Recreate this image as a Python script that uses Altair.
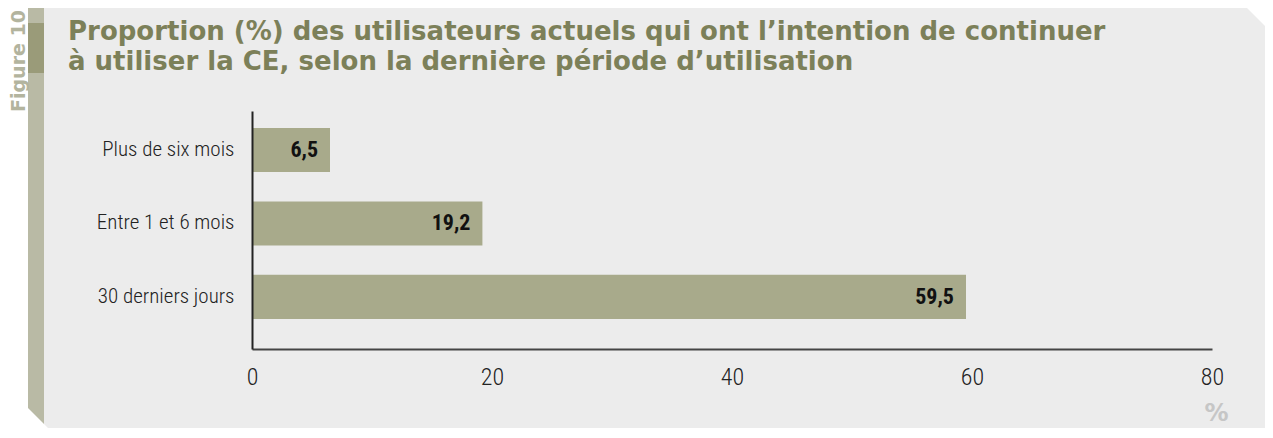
import altair as alt
import pandas as pd

# ---- data ----
categories = ["Plus de six mois", "Entre 1 et 6 mois", "30 derniers jours"]
values = [6.5, 19.2, 59.5]
x_ticks = [0, 20, 40, 60, 80]
title_text = ("Proportion (%) des utilisateurs actuels qui ont l’intention de continuer\n"
              "à utiliser la CE, selon la dernière période d’utilisation")
figure_label = "Figure 10"
x_title = "%"

df = pd.DataFrame({"cat": categories, "val": values})

W, H = 960, 238
NARROW = "Roboto Condensed, Liberation Sans Narrow, DejaVu Sans Condensed, sans-serif"
WIDE = "DejaVu Sans, Verdana, sans-serif"

one = alt.Data(values=[{}])


def deco(path, color):
    return alt.Chart(one).mark_point(
        shape=path, size=4, filled=True, fill=color, opacity=1, strokeWidth=0
    ).encode(x=alt.value(0), y=alt.value(0))


panel = deco("M-208,-105L993,-105L1021,-77L1021,327L-194,327L-208,313Z", "#ececec")
strip = deco("M-224,-105L-208,-105L-208,313L-224,297Z", "#b9baa5")
strip_dark = deco("M-224,-88L-208,-88L-208,-38L-224,-38Z", "#9a9b79")

fig_text = alt.Chart(one).mark_text(
    text=figure_label, angle=270, align="center", baseline="middle",
    font=WIDE, fontWeight="bold", fontSize=19, color="#b3b49e"
).encode(x=alt.value(-233), y=alt.value(-50))

title = alt.Chart(one).mark_text(
    text=title_text, lineBreak="\n", lineHeight=30, align="left", baseline="alphabetic",
    font=WIDE, fontWeight="bold", fontSize=26, color="#7c8059"
).encode(x=alt.value(-184), y=alt.value(-71))

x_enc = alt.X(
    "val:Q",
    scale=alt.Scale(domain=[0, 80], nice=False),
    axis=alt.Axis(
        values=x_ticks, grid=False, ticks=False, domainColor="#444", domainWidth=2,
        labelFont=NARROW, labelFontSize=24, labelFontWeight=300, labelColor="#222",
        labelPadding=16, labelFlush=False,
        title=x_title, titleX=964, titleY=71, titleAlign="center", titleBaseline="alphabetic",
        titleFont=WIDE, titleFontSize=24, titleFontWeight="bold", titleColor="#c6c6c6",
        titleAngle=0, zindex=2,
    ),
)
y_enc = alt.Y(
    "cat:N",
    sort=categories,
    scale=alt.Scale(paddingInner=0.4, paddingOuter=0.32, align=0.36),
    axis=alt.Axis(
        title=None, ticks=False, domainColor="#222", domainWidth=2,
        labelFont=NARROW, labelFontSize=21, labelFontWeight=300, labelColor="#222",
        labelPadding=18, zindex=2,
    ),
)

bars = alt.Chart(df).mark_bar(color="#a8aa8b").encode(x=x_enc, y=y_enc)

labels = alt.Chart(df).transform_calculate(
    label="replace(format(datum.val, '.1f'), '.', ',')"
).mark_text(
    align="right", baseline="middle", dx=-12, font=NARROW, fontWeight="bold",
    fontSize=22, color="#111"
).encode(x=x_enc, y=y_enc, text="label:N")

chart = alt.layer(panel, strip, strip_dark, fig_text, title, bars, labels).properties(
    width=W, height=H,
    autosize=alt.AutoSizeParams(type="none"),
    padding={"left": 244, "top": 103, "right": 53, "bottom": 79},
    background="white",
).configure_view(stroke=None)

chart.save("out.html", embed_options={"renderer": "svg", "actions": False})
